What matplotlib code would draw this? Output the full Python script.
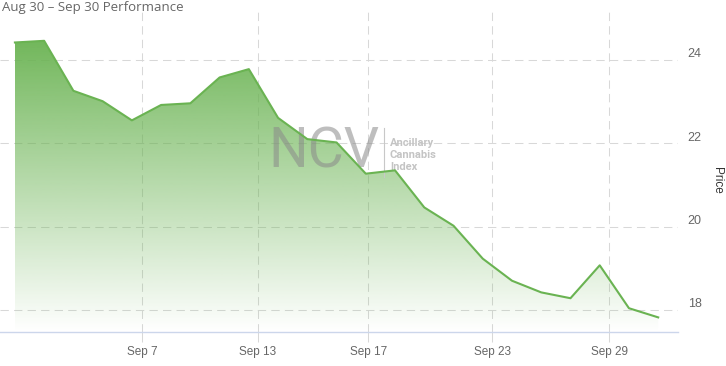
import numpy as np
import matplotlib
matplotlib.use("Agg")
import matplotlib.pyplot as plt
import matplotlib.transforms as mtransforms
from matplotlib.colors import to_rgb
from matplotlib.lines import Line2D

# closing prices, one per trading session, Aug 30 -> Sep 30
prices = [24.42, 24.46, 23.26, 23.01, 22.55, 22.92, 22.96, 23.58, 23.78,
          22.61, 22.10, 22.02, 21.27, 21.35, 20.46, 20.02, 19.23, 18.70,
          18.42, 18.28, 19.07, 18.04, 17.82]
tick_labels = ["Sep 7", "Sep 13", "Sep 17", "Sep 23", "Sep 29"]
price_ticks = [18, 20, 22, 24]

title = "Aug 30 \u2013 Sep 30 Performance"
line_color = "#6ab352"
grid_color = "#d8d8d8"
text_color = "#666666"

fig = plt.figure(figsize=(7.26, 3.66), dpi=100)
ax = fig.add_axes([0, 0.093, 0.934, 0.874])

x = np.arange(len(prices))
ylo, yhi = 17.47, 25.15

# area with a vertical fade to white
poly = ax.fill_between(x, prices, ylo, color="none", lw=0)
rgb = to_rgb(line_color)
grad = np.zeros((256, 1, 4))
grad[:, 0, :3] = rgb
grad[:, 0, 3] = np.linspace(0.95, 0.0, 256)
im = ax.imshow(grad, extent=[x[0], x[-1], ylo, max(prices)], aspect="auto",
               origin="upper", zorder=1)
im.set_clip_path(poly.get_paths()[0], ax.transData)

ax.plot(x, prices, color=line_color, lw=1.5, zorder=4, solid_joinstyle="round")

# ticks sit between sessions on the ordinal axis
ax.set_xticks([4.34, 8.31, 12.08, 16.32, 20.32])
ax.set_xticklabels(tick_labels)
ax.set_yticks(price_ticks)
ax.set_xlim(-0.51, 22.68)
ax.set_ylim(ylo, yhi)

ax.set_axisbelow(True)
ax.grid(True, color=grid_color, lw=0.75, linestyle=(0, (8, 5)))
for s in ["top", "left", "right"]:
    ax.spines[s].set_visible(False)
ax.spines["bottom"].set_color("#ccd6eb")
ax.spines["bottom"].set_linewidth(1)

ax.yaxis.tick_right()
ax.tick_params(axis="y", length=0, pad=7, labelsize=9, labelcolor=text_color)
ax.tick_params(axis="x", length=7, width=0.75, color=grid_color, pad=3,
               labelsize=8.5, labelcolor=text_color)
for lab in ax.get_xticklabels() + ax.get_yticklabels():
    lab.set_family("Liberation Sans")
shift = mtransforms.ScaledTranslation(0, 0.07, fig.dpi_scale_trans)
for lab in ax.get_yticklabels():
    lab.set_transform(lab.get_transform() + shift)

# watermark
ax.text(324 / 726, 1 - 152 / 366, "NCV", transform=fig.transFigure,
        ha="center", va="center", fontsize=40, family="Roboto",
        fontweight="normal", color="#8a8a8a", alpha=0.55, zorder=3)
ax.add_artist(Line2D([384 / 726, 384 / 726], [1 - 128 / 366, 1 - 177 / 366],
                     transform=fig.transFigure, color="#c8c8c8", lw=0.8, zorder=3))
for i, word in enumerate(["Ancillary", "Cannabis", "Index"]):
    ax.text(390 / 726, 1 - (143 + 12 * i) / 366, word, transform=fig.transFigure,
            ha="left", va="center", fontsize=8, family="Roboto",
            fontweight="bold", color="#c4c4c4", zorder=3)

fig.text(2 / 726, 1 - 7 / 366, title, ha="left", va="center", fontsize=9.5,
         family="Open Sans", color=text_color)
fig.text(717 / 726, 1 - 180 / 366, "Price", rotation=270, ha="center",
         va="center", fontsize=8.5, family="Liberation Sans", color="#333333")

fig.savefig("out.png", dpi=100)
